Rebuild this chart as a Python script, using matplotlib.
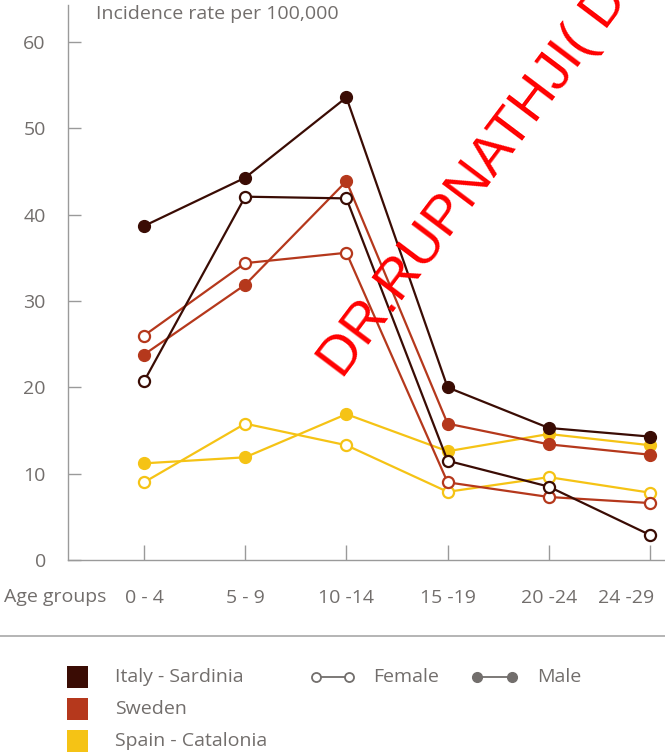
import matplotlib
matplotlib.use("Agg")
import matplotlib.pyplot as plt
from matplotlib.lines import Line2D
from matplotlib.patches import Rectangle
from matplotlib.transforms import ScaledTranslation

plt.rcParams['font.family'] = ['Open Sans', 'DejaVu Sans']

age_groups = ["0 - 4", "5 - 9", "10 -14", "15 -19", "20 -24", "24 -29"]
y_ticks = [0, 10, 20, 30, 40, 50, 60]

italy_male = [38.7, 44.3, 53.6, 20.0, 15.3, 14.3]
italy_female = [20.7, 42.1, 41.9, 11.5, 8.5, 2.9]
sweden_male = [23.8, 31.9, 43.9, 15.8, 13.4, 12.2]
sweden_female = [26.0, 34.4, 35.6, 9.0, 7.3, 6.6]
spain_male = [11.2, 11.9, 16.9, 12.6, 14.6, 13.3]
spain_female = [9.0, 15.8, 13.3, 7.9, 9.6, 7.8]

countries = ["Italy - Sardinia", "Sweden", "Spain - Catalonia"]
colors = ["#3a0c04", "#b5381c", "#f5c315"]
grey = "#726e6c"

W, H = 665, 753
fig = plt.figure(figsize=(W / 100, H / 100), dpi=100)

def fx(px):
    return px / W

def fy(py):
    return 1 - py / H

ax = fig.add_axes([fx(68), fy(560), fx(665) - fx(68), fy(5) - fy(560)])
x = list(range(len(age_groups)))
px_per_unit = (650 - 144) / 5
ax.set_xlim(-(144 - 68) / px_per_unit, 5 + (665 - 650) / px_per_unit)
ax.set_ylim(0, (560 - 5) / 8.63)

series = [
    (spain_female, spain_male, colors[2]),
    (sweden_female, sweden_male, colors[1]),
    (italy_female, italy_male, colors[0]),
]
for fem, mal, c in series:
    ax.plot(x, fem, color=c, lw=1.6, marker='o', markersize=8,
            markerfacecolor='white', markeredgecolor=c, markeredgewidth=1.6, zorder=3)
    ax.plot(x, mal, color=c, lw=1.6, marker='o', markersize=8.5,
            markerfacecolor=c, markeredgecolor=c, zorder=3)

for s in ['top', 'right']:
    ax.spines[s].set_visible(False)
for s in ['left', 'bottom']:
    ax.spines[s].set_color("#9a9a9a")
    ax.spines[s].set_linewidth(1.0)

ax.set_yticks(y_ticks)
ax.set_yticklabels([str(v) for v in y_ticks])
ax.set_xticks(x)
ax.set_xticklabels(age_groups)
ax.tick_params(axis='both', direction='in', width=1.0, color="#9a9a9a",
               labelcolor=grey, labelsize=14)
ax.tick_params(axis='y', length=9, pad=16)
ax.tick_params(axis='x', length=10.5, pad=21)
last = ax.get_xticklabels()[-1]
last.set_horizontalalignment('right')
last.set_transform(last.get_transform() + ScaledTranslation(4 / 100, 0, fig.dpi_scale_trans))

fig.text(fx(96), fy(14), "Incidence rate per 100,000", color=grey, fontsize=14,
         ha='left', va='center')
fig.text(fx(4), fy(597), "Age groups", color=grey, fontsize=14, ha='left', va='center')

# separator line
fig.add_artist(Line2D([0, 1], [fy(636), fy(636)], color="#a8a8a8", lw=1.2))

# legend: colour squares
legend_y = [677, 709, 741]
for name, c, ly in zip(countries, colors, legend_y):
    fig.add_artist(Rectangle((fx(67), fy(ly + 11)), fx(21), fy(ly - 11) - fy(ly + 11),
                             facecolor=c, edgecolor='none'))
    fig.text(fx(115), fy(ly), name, color=grey, fontsize=14, ha='left', va='center')

# legend: female / male glyphs
fig.add_artist(Line2D([fx(316), fx(349)], [fy(677), fy(677)], color=grey, lw=1.3,
                      marker='o', markersize=6.5, markerfacecolor='white',
                      markeredgecolor=grey, markeredgewidth=1.3))
fig.text(fx(373), fy(677), "Female", color=grey, fontsize=14, ha='left', va='center')
fig.add_artist(Line2D([fx(477), fx(512)], [fy(677), fy(677)], color=grey, lw=1.3,
                      marker='o', markersize=7, markerfacecolor=grey,
                      markeredgecolor=grey))
fig.text(fx(537), fy(677), "Male", color=grey, fontsize=14, ha='left', va='center')

# watermark
fig.text(fx(342), fy(380), "DR.RUPNATHJI( DR.RUPNATHJI )", color="#ff0000",
         fontsize=40, rotation=53, rotation_mode='anchor', ha='left', va='baseline',
         family=['Liberation Sans', 'DejaVu Sans'], zorder=10)

fig.savefig("out.png", dpi=100)
